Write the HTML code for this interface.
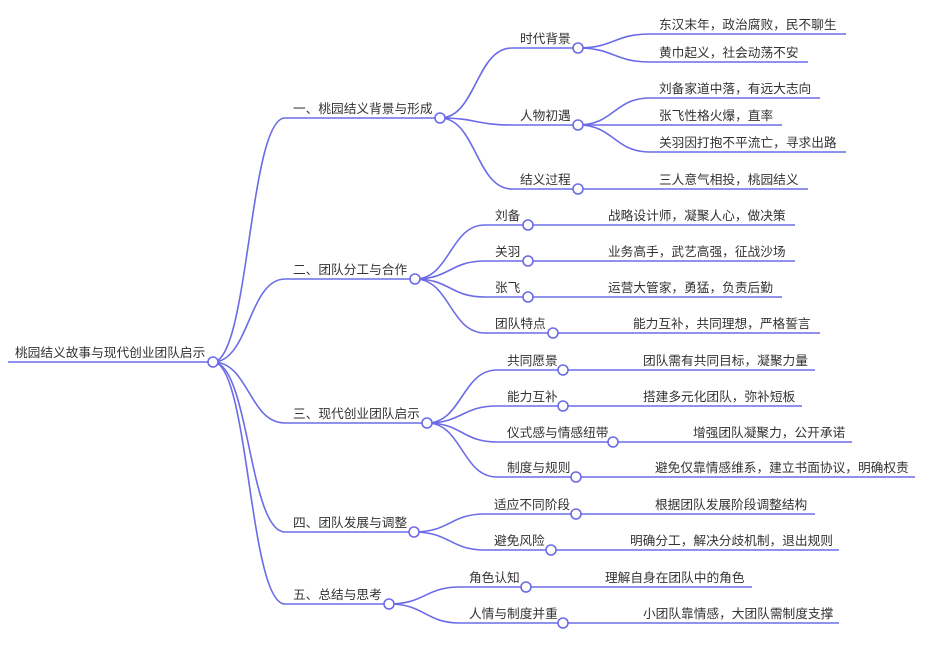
<!DOCTYPE html>
<html><head><meta charset="utf-8"><style>
html,body{margin:0;padding:0;background:#fff;width:935px;height:651px;overflow:hidden}
text{font-family:"Liberation Sans","Noto Sans CJK SC",sans-serif;font-size:12.7px;fill:#333}
</style></head><body>
<svg width="935" height="651" viewBox="0 0 935 651" xmlns="http://www.w3.org/2000/svg">
<g fill="none" stroke="#6b6be8" stroke-width="1.6">
<path d="M8,362 L208,362"/>
<path d="M213,362 C249,362 249,118 285,118 L435,118"/>
<path d="M213,362 C249,362 249,279 285,279 L410,279"/>
<path d="M213,362 C249,362 249,423 285,423 L422,423"/>
<path d="M213,362 C249,362 249,532 285,532 L409,532"/>
<path d="M213,362 C249,362 249,604 285,604 L384,604"/>

<path d="M440,118 C476,118 476,48 512,48 L573,48"/>
<path d="M440,118 C476,118 476,125 512,125 L573,125"/>
<path d="M440,118 C476,118 476,189 512,189 L573,189"/>
<path d="M578,48 C614,48 614,34 650,34 L846,34"/>
<path d="M578,48 C614,48 614,62 650,62 L808,62"/>
<path d="M578,125 C614,125 614,98 650,98 L820,98"/>
<path d="M578,125 C614,125 614,125 650,125 L782,125"/>
<path d="M578,125 C614,125 614,152 650,152 L846,152"/>
<path d="M583,189 L808,189"/>

<path d="M415,279 C450,279 450,225 485,225 L523,225"/>
<path d="M415,279 C450,279 450,261 485,261 L523,261"/>
<path d="M415,279 C450,279 450,297 485,297 L523,297"/>
<path d="M415,279 C450,279 450,333 485,333 L548,333"/>
<path d="M533,225 L795,225"/><path d="M533,261 L795,261"/><path d="M533,297 L782,297"/><path d="M558,333 L820,333"/>

<path d="M427,423 C462,423 462,370 497,370 L558,370"/>
<path d="M427,423 C462,423 462,406 497,406 L558,406"/>
<path d="M427,423 C462,423 462,442 497,442 L608,442"/>
<path d="M427,423 C462,423 462,477 497,477 L571,477"/>
<path d="M568,370 L815,370"/><path d="M568,406 L802,406"/><path d="M618,442 L852,442"/><path d="M581,477 L915,477"/>

<path d="M414,532 C450,532 450,514 485,514 L571,514"/>
<path d="M414,532 C450,532 450,550 485,550 L546,550"/>
<path d="M581,514 L815,514"/><path d="M556,550 L839,550"/>

<path d="M389,604 C425,604 425,587 460,587 L521,587"/>
<path d="M389,604 C425,604 425,623 460,623 L558,623"/>
<path d="M531,587 L752,587"/><path d="M568,623 L839,623"/>
</g>
<g fill="#fff" stroke="#6b6be8" stroke-width="1.6">
<circle cx="213" cy="362" r="5"/>
<circle cx="440" cy="118" r="5"/><circle cx="415" cy="279" r="5"/><circle cx="427" cy="423" r="5"/><circle cx="414" cy="532" r="5"/><circle cx="389" cy="604" r="5"/>
<circle cx="578" cy="48" r="5"/><circle cx="578" cy="125" r="5"/><circle cx="578" cy="189" r="5"/>
<circle cx="528" cy="225" r="5"/><circle cx="528" cy="261" r="5"/><circle cx="528" cy="297" r="5"/><circle cx="553" cy="333" r="5"/>
<circle cx="563" cy="370" r="5"/><circle cx="563" cy="406" r="5"/><circle cx="613" cy="442" r="5"/><circle cx="576" cy="477" r="5"/>
<circle cx="576" cy="514" r="5"/><circle cx="551" cy="550" r="5"/>
<circle cx="526" cy="587" r="5"/><circle cx="563" cy="623" r="5"/>
</g>
<text x="15" y="357">桃园结义故事与现代创业团队启示</text>
<text x="293" y="113">一、桃园结义背景与形成</text>
<text x="293" y="274">二、团队分工与合作</text>
<text x="293" y="418">三、现代创业团队启示</text>
<text x="293" y="527">四、团队发展与调整</text>
<text x="293" y="599">五、总结与思考</text>
<text x="520" y="43">时代背景</text>
<text x="520" y="120">人物初遇</text>
<text x="520" y="184">结义过程</text>
<text x="659" y="29">东汉末年，政治腐败，民不聊生</text>
<text x="659" y="57">黄巾起义，社会动荡不安</text>
<text x="659" y="93">刘备家道中落，有远大志向</text>
<text x="659" y="120">张飞性格火爆，直率</text>
<text x="659" y="147">关羽因打抱不平流亡，寻求出路</text>
<text x="659" y="184">三人意气相投，桃园结义</text>
<text x="495" y="220">刘备</text>
<text x="495" y="256">关羽</text>
<text x="495" y="292">张飞</text>
<text x="495" y="328">团队特点</text>
<text x="608" y="220">战略设计师，凝聚人心，做决策</text>
<text x="608" y="256">业务高手，武艺高强，征战沙场</text>
<text x="608" y="292">运营大管家，勇猛，负责后勤</text>
<text x="633" y="328">能力互补，共同理想，严格誓言</text>
<text x="507" y="365">共同愿景</text>
<text x="507" y="401">能力互补</text>
<text x="507" y="437">仪式感与情感纽带</text>
<text x="507" y="472">制度与规则</text>
<text x="643" y="365">团队需有共同目标，凝聚力量</text>
<text x="643" y="401">搭建多元化团队，弥补短板</text>
<text x="693" y="437">增强团队凝聚力，公开承诺</text>
<text x="655" y="472">避免仅靠情感维系，建立书面协议，明确权责</text>
<text x="494" y="509">适应不同阶段</text>
<text x="494" y="545">避免风险</text>
<text x="655" y="509">根据团队发展阶段调整结构</text>
<text x="630" y="545">明确分工，解决分歧机制，退出规则</text>
<text x="469" y="582">角色认知</text>
<text x="469" y="618">人情与制度并重</text>
<text x="605" y="582">理解自身在团队中的角色</text>
<text x="643" y="618">小团队靠情感，大团队需制度支撑</text>
</svg>
</body></html>
